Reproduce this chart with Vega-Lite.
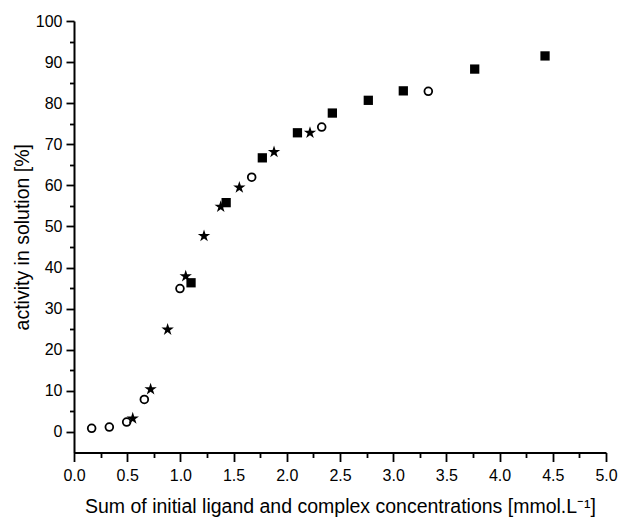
{
  "$schema": "https://vega.github.io/schema/vega-lite/v6.json",
  "width": 532,
  "height": 431.5,
  "autosize": {"type": "none"},
  "padding": {"left": 74, "top": 21, "right": 13, "bottom": 66},
  "background": "white",
  "config": {
    "view": {"stroke": null},
    "font": "Liberation Sans",
    "axis": {
      "grid": false,
      "domainColor": "black",
      "domainWidth": 2,
      "tickColor": "black",
      "tickWidth": 1.8,
      "labelFont": "Liberation Sans",
      "labelFontSize": 16,
      "labelColor": "black",
      "titleFont": "Liberation Sans",
      "titleFontSize": 19.5,
      "titleFontWeight": "normal",
      "titleColor": "black",
      "labelFlush": false,
      "labelOverlap": false
    }
  },
  "data": {
    "values": [
      {"series": "circle", "conc": 0.166, "activity": 0.9},
      {"series": "circle", "conc": 0.332, "activity": 1.2},
      {"series": "circle", "conc": 0.495, "activity": 2.4},
      {"series": "circle", "conc": 0.661, "activity": 7.9},
      {"series": "circle", "conc": 0.996, "activity": 34.9},
      {"series": "circle", "conc": 1.67, "activity": 62.0},
      {"series": "circle", "conc": 2.328, "activity": 74.2},
      {"series": "circle", "conc": 3.33, "activity": 82.9},
      {"series": "star", "conc": 0.552, "activity": 3.3},
      {"series": "star", "conc": 0.72, "activity": 10.4},
      {"series": "star", "conc": 0.88, "activity": 24.9},
      {"series": "star", "conc": 1.05, "activity": 37.9},
      {"series": "star", "conc": 1.222, "activity": 47.7},
      {"series": "star", "conc": 1.379, "activity": 54.8},
      {"series": "star", "conc": 1.554, "activity": 59.5},
      {"series": "star", "conc": 1.88, "activity": 68.1},
      {"series": "star", "conc": 2.218, "activity": 72.8},
      {"series": "square", "conc": 1.10, "activity": 36.3},
      {"series": "square", "conc": 1.43, "activity": 55.8},
      {"series": "square", "conc": 1.77, "activity": 66.7},
      {"series": "square", "conc": 2.10, "activity": 72.8},
      {"series": "square", "conc": 2.428, "activity": 77.6},
      {"series": "square", "conc": 2.766, "activity": 80.7},
      {"series": "square", "conc": 3.095, "activity": 83.0},
      {"series": "square", "conc": 3.766, "activity": 88.3},
      {"series": "square", "conc": 4.427, "activity": 91.5}
    ]
  },
  "resolve": {"axis": {"x": "independent", "y": "independent"}},
  "layer": [
    {
      "transform": [{"filter": "datum.series === 'square'"}],
      "mark": {"type": "point", "shape": "square", "filled": true, "color": "black", "size": 86, "opacity": 1},
      "encoding": {
        "x": {
          "field": "conc",
          "type": "quantitative",
          "scale": {"domain": [0, 5], "nice": false, "zero": false},
          "axis": {
            "orient": "bottom",
            "title": "Sum of initial ligand and complex concentrations [mmol.L⁻¹]",
            "values": [0, 0.5, 1, 1.5, 2, 2.5, 3, 3.5, 4, 4.5, 5],
            "format": ".1f",
            "tickSize": 9,
            "labelPadding": 6,
            "titlePadding": 14
          }
        },
        "y": {
          "field": "activity",
          "type": "quantitative",
          "scale": {"domain": [-5, 100], "nice": false, "zero": false},
          "axis": {
            "orient": "left",
            "title": "activity in solution [%]",
            "values": [0, 10, 20, 30, 40, 50, 60, 70, 80, 90, 100],
            "tickSize": 8,
            "labelPadding": 4,
            "titlePadding": 3
          }
        }
      }
    },
    {
      "transform": [{"filter": "datum.series === 'circle'"}],
      "mark": {"type": "point", "shape": "circle", "filled": false, "color": "black", "size": 60, "strokeWidth": 1.8, "opacity": 1},
      "encoding": {
        "x": {
          "field": "conc",
          "type": "quantitative",
          "axis": {
            "orient": "bottom",
            "title": null,
            "values": [0.25, 0.75, 1.25, 1.75, 2.25, 2.75, 3.25, 3.75, 4.25, 4.75],
            "labels": false,
            "domain": false,
            "tickSize": 5
          }
        },
        "y": {
          "field": "activity",
          "type": "quantitative",
          "axis": {
            "orient": "left",
            "title": null,
            "values": [5, 15, 25, 35, 45, 55, 65, 75, 85, 95],
            "labels": false,
            "domain": false,
            "tickSize": 4.5
          }
        }
      }
    },
    {
      "transform": [{"filter": "datum.series === 'star'"}],
      "mark": {"type": "point", "shape": "M0,-1L0.2245,-0.309L0.951,-0.309L0.363,0.118L0.588,0.809L0,0.382L-0.588,0.809L-0.363,0.118L-0.951,-0.309L-0.2245,-0.309Z", "filled": true, "color": "black", "size": 170, "opacity": 1},
      "encoding": {
        "x": {"field": "conc", "type": "quantitative", "axis": null},
        "y": {"field": "activity", "type": "quantitative", "axis": null}
      }
    }
  ]
}
